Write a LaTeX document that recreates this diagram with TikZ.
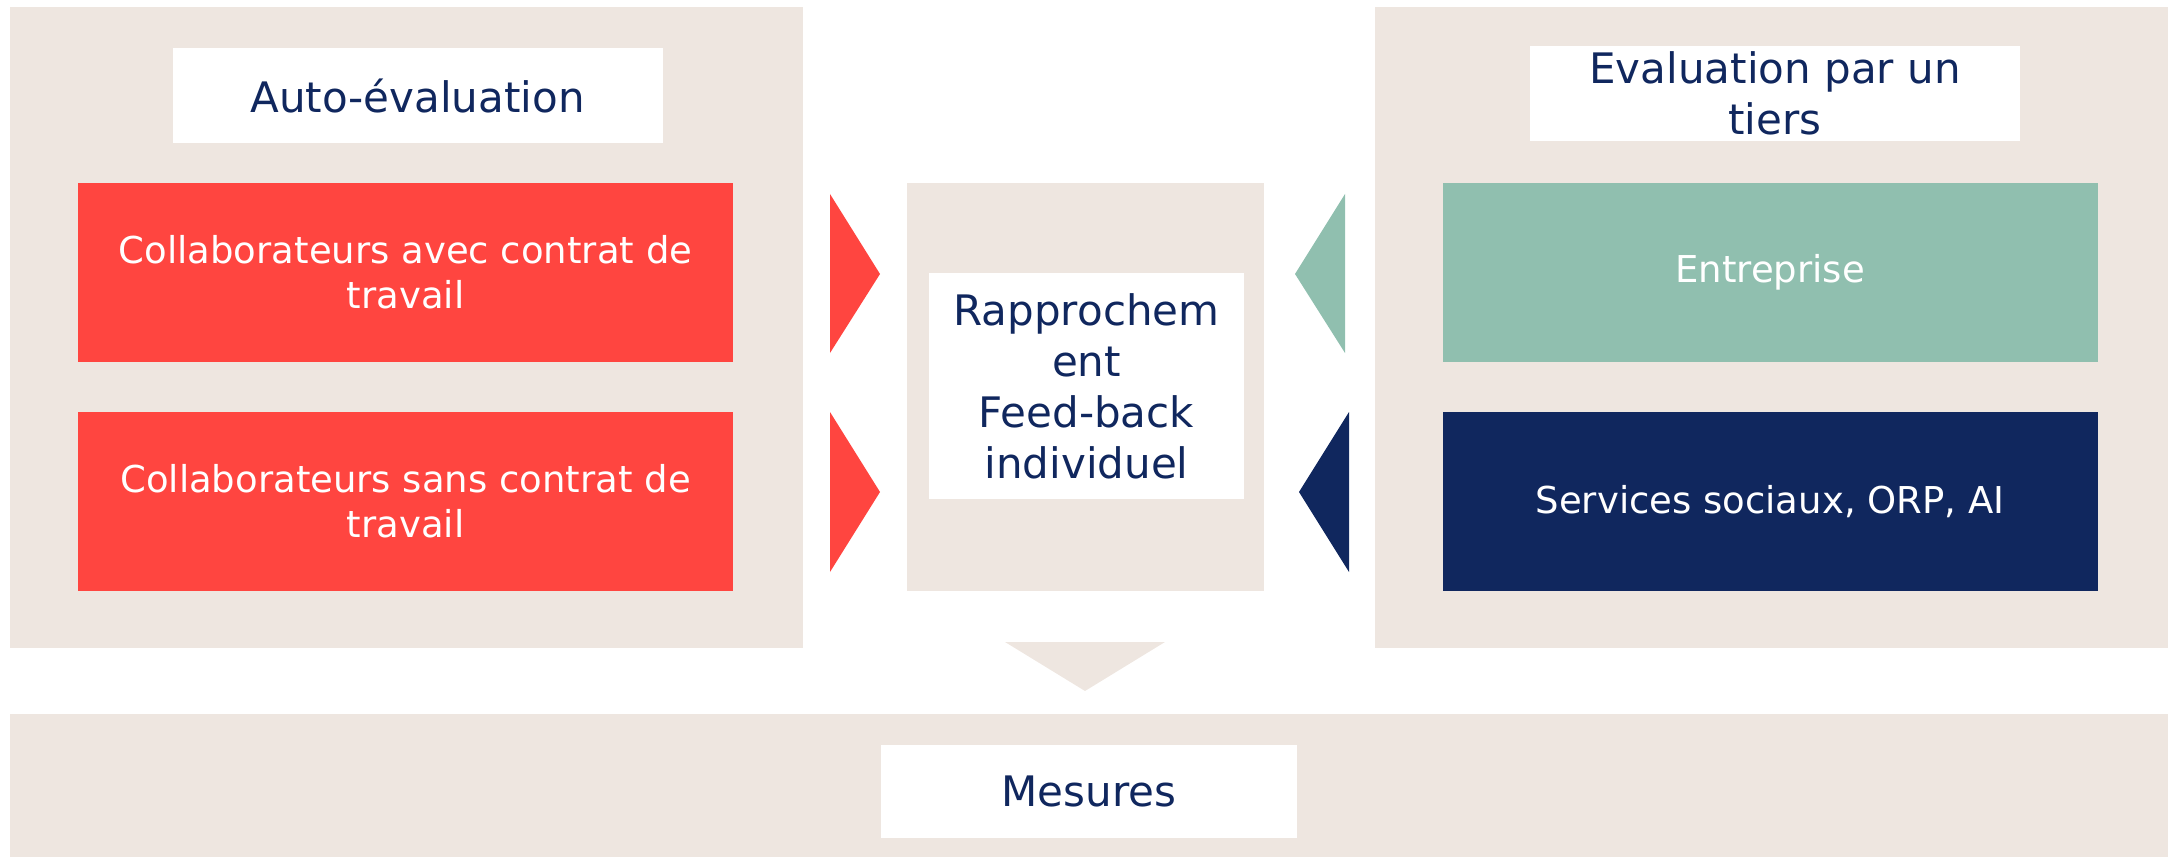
\documentclass[tikz,border=0pt]{standalone}
\usepackage{fontspec}
\setmainfont{DejaVu Sans}
\usetikzlibrary{positioning}

\definecolor{beige}{HTML}{EEE6E0}
\definecolor{redc}{HTML}{FF4540}
\definecolor{greenc}{HTML}{90BFAF}
\definecolor{navyc}{HTML}{10275E}

\begin{document}
\begin{tikzpicture}[x=1pt, y=-1pt,
    every node/.style = {shape=rectangle, inner sep=0pt, align=center},
    panel/.style = {fill=beige, minimum width=793, minimum height=641},
    titlebox/.style = {fill=white, text=navyc, minimum width=490, minimum height=95,
      font=\fontsize{42}{51}\selectfont},
    itembox/.style = {text=white, minimum width=655, minimum height=179,
      font=\fontsize{37}{45}\selectfont}]
    \useasboundingbox (0,0) rectangle (2175,858);

    \node[panel] (left) at (406.5,327.5) {};
    \node[panel] (right) at (1771.5,327.5) {};
    \node[fill=beige, minimum width=2158, minimum height=143] (band) at (1089,785.5) {};
    \node[fill=beige, minimum width=357, minimum height=408] (mid) at (1085.5,387) {};

    \node[titlebox] (auto) at (417.5,96) {Auto-évaluation};
    \node[titlebox] (tiers) at (1775,93.5) {Evaluation par un\\tiers};
    \node[itembox, fill=redc] (avec) at (405.5,272.5) {Collaborateurs avec contrat de\\travail};
    \node[itembox, fill=redc] (sans) at (405.5,501.5) {Collaborateurs sans contrat de\\travail};
    \node[itembox, fill=greenc] (entr) at (1770,272.5) {Entreprise};
    \node[itembox, fill=navyc] (serv) at (1770,501.5) {Services sociaux, ORP, AI};
    \node[titlebox, minimum width=315, minimum height=226] (rapp) at (1086.5,386)
      {Rapprochem\\ent\\Feed-back\\individuel};
    \node[titlebox, minimum width=416, minimum height=93] (mes) at (1089,791.5) {Mesures};

    \fill[redc] (830,194) -- (880,274) -- (830,353) -- cycle;
    \fill[redc] (830,412) -- (880,492) -- (830,572) -- cycle;
    \fill[greenc] (1345,194) -- (1295,274) -- (1345,353) -- cycle;
    \fill[navyc] (1349,412) -- (1299,492) -- (1349,572) -- cycle;
    \fill[beige] (1005,642) -- (1165,642) -- (1085,691) -- cycle;
\end{tikzpicture}
\end{document}
